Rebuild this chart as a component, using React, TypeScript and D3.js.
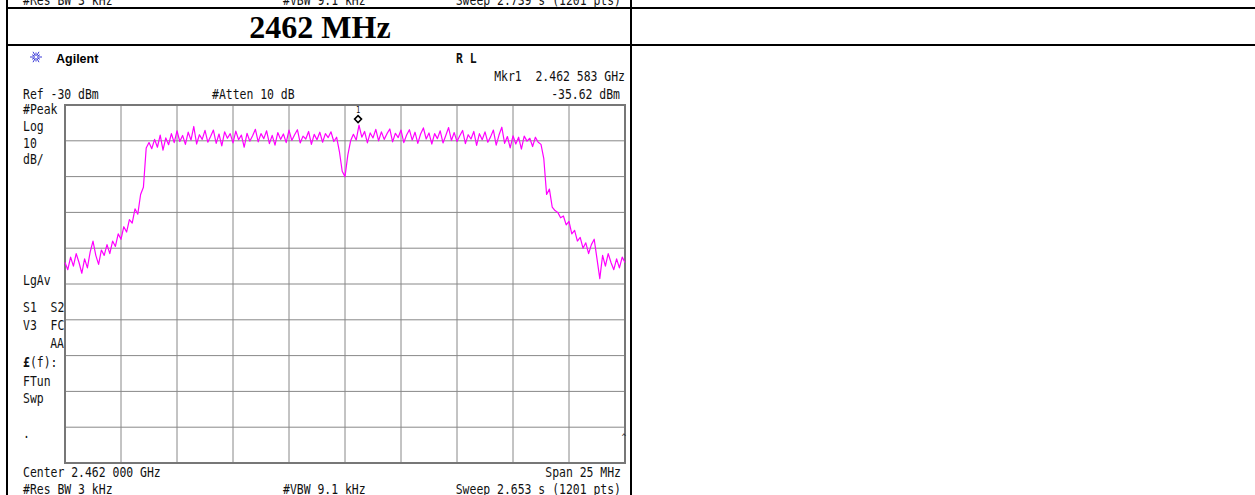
import React from "react";
import * as d3 from "d3";

// Spectrum analyzer trace: 201 points spaced evenly over the 25 MHz span (offset from center, MHz)
const spanMHz = 25;
const refLevel = -30;
const dbPerDiv = 10;
const divisions = 10;

const leftSkirt = [
  -74, -76, -72.5, -75, -71.5, -74, -77, -73, -75.5, -71,
  -68, -72, -74.5, -70.5, -72, -69, -71.5, -68, -69.5, -66,
  -67.5, -64, -65.5, -62, -63, -59, -60.5, -55, -53, -42,
];
const plateau = [
  -40.5, -42.2, -39.6, -41.8, -38.4, -42.6, -39.2, -41.1, -38.0, -40.5,
  -37.2, -40.2, -38.5, -41.0, -37.6, -39.8, -36.0, -40.9, -38.3, -39.6,
  -37.1, -40.4, -38.8, -37.0, -40.7, -38.1, -41.4, -37.5, -39.3, -38.0,
  -40.6, -37.3, -39.7, -38.4, -41.8, -37.9, -40.1, -38.6, -36.8, -40.3,
  -38.0, -39.4, -37.2, -40.8, -38.5, -41.2, -37.7, -39.6, -38.1, -40.5,
  -37.0, -39.9, -38.3, -36.9, -40.6, -38.7, -39.5, -37.4, -41.0, -38.2,
  -39.7, -37.6, -40.4, -38.0, -39.1, -37.5, -40.2, -39.0, -43.0, -48.5,
  -50.0, -44.0, -40.0, -38.2, -39.8, -35.6, -39.0, -37.4, -40.6, -37.8,
  -39.2, -36.8, -40.0, -37.5, -39.6, -38.0, -36.7, -40.3, -37.9, -39.1,
  -37.0, -40.5, -38.4, -36.9, -39.8, -37.6, -40.7, -38.1, -36.4, -39.5,
  -37.8, -40.9, -38.0, -39.4, -37.2, -40.6, -38.5, -36.3, -39.9, -37.7,
  -40.2, -38.6, -37.1, -40.8, -38.3, -39.5, -37.4, -41.3, -38.0, -39.7,
  -37.5, -40.4, -38.9, -37.0, -41.2, -38.4, -36.2, -40.7, -38.8, -42.0,
  -38.6, -40.9, -39.0, -42.3, -38.7, -40.1, -39.3, -41.6, -39.0, -40.4,
  -41.0,
];
const rightSkirt = [
  -45, -55, -53.5, -58.5, -59.5, -60, -61.5, -61, -63.5, -62.5,
  -66, -65, -68, -67, -70, -68.5, -71.5, -69, -67.5, -73,
  -78.5, -72, -75, -71.5, -74, -76, -73, -75.5, -72.5, -74,
];
const levels = [...leftSkirt, ...plateau, ...rightSkirt];

const markerFreqMHz = 0.583;
const markerLevel = -35.62;

const topRowTexts = ["#Res BW 3 kHz", "#VBW 9.1 kHz", "Sweep 2.739 s (1201 pts)"];
const bottomRowTexts = ["#Res BW 3 kHz", "#VBW 9.1 kHz", "Sweep 2.653 s (1201 pts)"];
const leftLabels = [
  { t: "#Peak", y: 114 },
  { t: "Log", y: 131 },
  { t: "10", y: 148 },
  { t: "dB/", y: 164 },
  { t: "LgAv", y: 285 },
  { t: "S1  S2", y: 312 },
  { t: "V3  FC", y: 330 },
  { t: "FTun", y: 386 },
  { t: "Swp", y: 403 },
];

const MONO = "'DejaVu Sans Mono', monospace";

function T({ x, y, children, anchor = "start", size = 14.5, sx = 0.79, weight = "normal", fill = "#111" }: any) {
  return (
    <text
      transform={`translate(${x},${y}) scale(${sx},1)`}
      textAnchor={anchor}
      fontSize={size}
      fontFamily={MONO}
      fontWeight={weight}
      fill={fill}
      style={{ whiteSpace: "pre" }}
    >
      {children}
    </text>
  );
}

export default function App() {
  const W = 1255, H = 495;
  const px0 = 65, px1 = 625, py0 = 105, py1 = 463;
  const x = d3.scaleLinear().domain([-spanMHz / 2, spanMHz / 2]).range([px0, px1]);
  const y = d3.scaleLinear().domain([refLevel - dbPerDiv * divisions, refLevel]).range([py1, py0]);
  const n = levels.length;
  const freqs = levels.map((_, i) => -spanMHz / 2 + (i * spanMHz) / (n - 1));
  const line = d3.line<number>().x((_, i) => x(freqs[i])).y((d) => y(d));
  const xTicks = d3.range(0, divisions + 1).map((k) => -spanMHz / 2 + (k * spanMHz) / divisions);
  const yTicks = d3.range(0, divisions + 1).map((k) => refLevel - k * dbPerDiv);
  const mx = x(markerFreqMHz);
  const my = y(markerLevel) - 6;

  const star = d3.range(0, 12).map((k) => (k * Math.PI) / 6);

  return (
    <svg width={W} height={H} style={{ position: "absolute", left: 0, top: 0, background: "#fff" }}>
      {/* table lines */}
      <line x1={7} x2={7} y1={0} y2={H} stroke="#000" strokeWidth={2} />
      <line x1={631} x2={631} y1={0} y2={H} stroke="#000" strokeWidth={2} />
      <line x1={7} x2={W} y1={8} y2={8} stroke="#000" strokeWidth={2} />
      <line x1={7} x2={W} y1={45} y2={45} stroke="#000" strokeWidth={2} />

      {/* row above, cut off at the top as in the reference */}
      <T x={23} y={5}>{topRowTexts[0]}</T>
      <T x={283} y={5}>{topRowTexts[1]}</T>
      <T x={621} y={5} anchor="end">{topRowTexts[2]}</T>

      {/* title */}
      <text x={320} y={38} textAnchor="middle" fontFamily="'Liberation Serif', 'Times New Roman', serif" fontWeight="bold" fontSize={32} fill="#000">
        2462 MHz
      </text>

      {/* Agilent logo */}
      <g transform="translate(36,57)" stroke="#3a3ad8" strokeWidth={1}>
        {star.map((a, i) => (
          <line key={i} x1={Math.cos(a) * 1.5} y1={Math.sin(a) * 1.5} x2={Math.cos(a) * (i % 2 ? 4.5 : 6)} y2={Math.sin(a) * (i % 2 ? 4.5 : 6)} />
        ))}
      </g>
      <text x={56} y={63} fontFamily="'Liberation Sans', Arial, sans-serif" fontWeight="bold" fontSize={12.5} fill="#000">Agilent</text>
      <T x={456} y={63} weight="bold">R L</T>

      <T x={625} y={81} anchor="end">Mkr1  2.462 583 GHz</T>
      <T x={23} y={99}>Ref -30 dBm</T>
      <T x={212} y={99}>#Atten 10 dB</T>
      <T x={620} y={99} anchor="end">-35.62 dBm</T>

      {leftLabels.map((l) => (
        <T key={l.t} x={23} y={l.y}>{l.t}</T>
      ))}
      <T x={64} y={348} anchor="end">AA</T>
      <text transform="translate(23,367) scale(0.79,1)" fontFamily={MONO} fontSize={14.5} fill="#111">
        <tspan fontWeight="bold">£</tspan>(f):
      </text>
      <T x={23} y={438}>.</T>

      {/* grid */}
      <g stroke="#888" strokeWidth={1}>
        {xTicks.slice(1, -1).map((f) => (
          <line key={"gx" + f} x1={x(f)} x2={x(f)} y1={py0} y2={py1} />
        ))}
        {yTicks.slice(1, -1).map((v) => (
          <line key={"gy" + v} x1={px0} x2={px1} y1={y(v)} y2={y(v)} />
        ))}
      </g>
      <rect x={px0} y={py0} width={px1 - px0} height={py1 - py0} fill="none" stroke="#777" strokeWidth={2} />

      {/* trace */}
      <path d={line(levels) || ""} fill="none" stroke="#ff00ff" strokeWidth={1.2} strokeLinejoin="round" />

      {/* marker */}
      <path d={`M${mx},${my - 3.5} L${mx + 3.5},${my} L${mx},${my + 3.5} L${mx - 3.5},${my} Z`} fill="#fff" stroke="#000" strokeWidth={1.5} />
      <T x={mx} y={my - 6} anchor="middle" size={9}>1</T>
      <T x={626} y={440} anchor="end" size={9}>^</T>

      {/* bottom annotations */}
      <T x={23} y={477}>Center 2.462 000 GHz</T>
      <T x={621} y={477} anchor="end">Span 25 MHz</T>
      <T x={23} y={494}>{bottomRowTexts[0]}</T>
      <T x={283} y={494}>{bottomRowTexts[1]}</T>
      <T x={621} y={494} anchor="end">{bottomRowTexts[2]}</T>
    </svg>
  );
}
